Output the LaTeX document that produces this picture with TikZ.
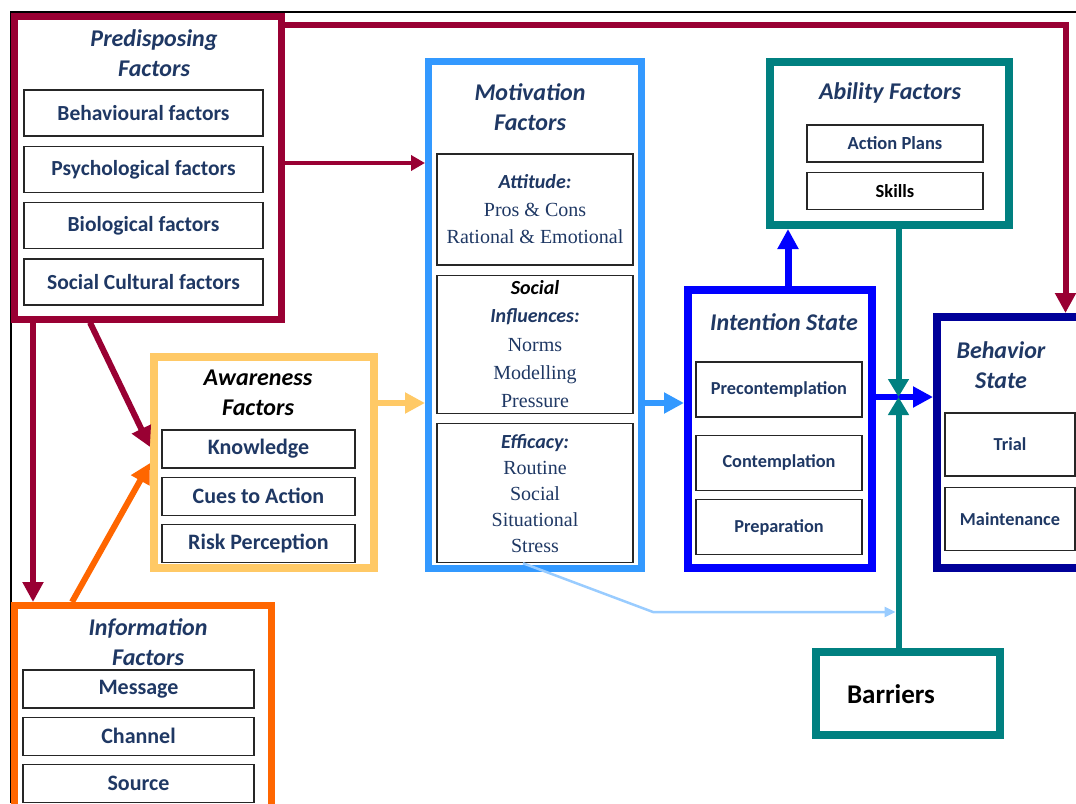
\documentclass[tikz,border=0pt]{standalone}
\usepackage{fontspec}
\setmainfont{Carlito}
\newfontfamily\garafont{Liberation Serif}
\usetikzlibrary{positioning,arrows.meta}
\definecolor{PredRed}{HTML}{990033}
\definecolor{AwareGold}{HTML}{FFC966}
\definecolor{InfoOrange}{HTML}{FF6600}
\definecolor{MotBlue}{HTML}{3399FF}
\definecolor{PaleBlue}{HTML}{99CCFF}
\definecolor{AbiTeal}{HTML}{008080}
\definecolor{IntBlue}{HTML}{0000FF}
\definecolor{BehNavy}{HTML}{000099}
\definecolor{TxtBlue}{HTML}{1F3864}

\begin{document}
\begin{tikzpicture}[x=1pt,y=-1pt]
	\tikzstyle{FrameStyle} = [shape=rectangle, draw, fill=white, inner sep=0pt]
	\tikzstyle{ItemStyle}  = [shape=rectangle, draw=black!85, line width=1.3pt, fill=white, inner sep=0pt,
	                          text=TxtBlue, font=\bfseries\fontsize{21.5}{24}\selectfont]
	\tikzstyle{ListStyle}  = [ItemStyle, align=center, font=\garafont\fontsize{20}{27.5}\selectfont]
	\tikzstyle{TitleStyle} = [align=center, text=TxtBlue, font=\bfseries\itshape\fontsize{24}{30}\selectfont]
	\tikzstyle{EdgeStyle}  = [line width=6pt, -{Triangle[length=20pt,width=20pt]}]
	\useasboundingbox (0,0) rectangle (1076,803);
	\draw[line width=1.3pt] (11,803) -- (11,12) -- (1080,12);

	% outer boxes
	\node[FrameStyle, draw=PredRed, line width=7pt, minimum width=267pt, minimum height=303pt] (pre) at (148,167.5) {};
	\node[FrameStyle, draw=AwareGold, line width=8pt, minimum width=220pt, minimum height=211pt] (awa) at (264,462.5) {};
	\node[FrameStyle, draw=InfoOrange, line width=7pt, minimum width=257pt, minimum height=430pt] (inf) at (143,820.5) {};
	\node[FrameStyle, draw=MotBlue, line width=7pt, minimum width=213pt, minimum height=507pt] (mot) at (535,315) {};
	\node[FrameStyle, draw=AbiTeal, line width=8pt, minimum width=239pt, minimum height=163pt] (abi) at (889.5,143.5) {};
	\node[FrameStyle, draw=IntBlue, line width=8pt, minimum width=184pt, minimum height=278pt] (int) at (780,429) {};
	\node[FrameStyle, draw=BehNavy, line width=8pt, minimum width=163pt, minimum height=251pt] (beh) at (1018.5,442.5) {};
	\node[FrameStyle, draw=AbiTeal, line width=8pt, minimum width=184pt, minimum height=83pt] (bar) at (908,693.5) {};

	% titles
	\node[TitleStyle] at (154,53.5) {Predisposing\\Factors};
	\node[TitleStyle, text=black] at (258,393) {Awareness\\Factors};
	\node[TitleStyle] at (148,642) {Information\\Factors};
	\node[TitleStyle] at (530,107.5) {Motivation\\Factors};
	\node[TitleStyle] at (890,93) {Ability Factors};
	\node[TitleStyle] at (784,322) {Intention State};
	\node[TitleStyle] at (1001,365) {Behavior\\State};
	\node[font=\bfseries\fontsize{27}{29}\selectfont] at (891,694) {Barriers};

	% predisposing items
	\tikzstyle{PredItem} = [ItemStyle, minimum width=239pt, minimum height=46pt]
	\node[PredItem] (behav) at (143.5,113) {Behavioural factors};
	\node[PredItem, below=9pt of behav] (psych) {Psychological factors};
	\node[PredItem, below=9pt of psych] (biol) {Biological factors};
	\node[PredItem, below=9pt of biol] (socul) {Social Cultural factors};

	% awareness items
	\tikzstyle{AwaItem} = [ItemStyle, minimum width=193pt, minimum height=38pt, font=\bfseries\fontsize{22}{24}\selectfont]
	\node[AwaItem] (know) at (258.5,449) {Knowledge};
	\node[AwaItem, below=8pt of know] (cues) {Cues to Action};
	\node[AwaItem, below=8pt of cues] (risk) {Risk Perception};

	% information items
	\tikzstyle{InfItem} = [ItemStyle, minimum width=231pt, minimum height=38pt, font=\bfseries\fontsize{22}{24}\selectfont]
	\node[InfItem] (mess) at (138.5,689) {Message};
	\node[InfItem, below=8pt of mess] (chan) {Channel};
	\node[InfItem, below=8pt of chan] (sour) {Source};

	% motivation items
	\tikzstyle{MotItem} = [ListStyle, minimum width=196pt]
	\node[MotItem, minimum height=111pt] (att) at (535,209.5)
		{{\normalfont\bfseries\itshape Attitude:}\\Pros \& Cons\\Rational \& Emotional};
	\node[MotItem, minimum height=138pt, below=9pt of att, font=\garafont\fontsize{20}{28.3}\selectfont] (soc)
		{{\normalfont\bfseries\itshape\color{black}Social}\\{\normalfont\bfseries\itshape Influences:}\\Norms\\Modelling\\Pressure};
	\node[MotItem, minimum height=139pt, below=9pt of soc, font=\garafont\fontsize{20}{26}\selectfont] (eff)
		{{\normalfont\bfseries\itshape Efficacy:}\\Routine\\Social\\Situational\\Stress};

	% ability items
	\tikzstyle{AbiItem} = [ItemStyle, minimum width=176pt, minimum height=37pt, font=\bfseries\fontsize{18.5}{20}\selectfont]
	\node[AbiItem] (plan) at (895,143.5) {Action Plans};
	\node[AbiItem, below=9pt of plan, text=black] (skil) {Skills};

	% intention items
	\tikzstyle{IntItem} = [ItemStyle, minimum width=166pt, minimum height=55pt, font=\bfseries\fontsize{18.3}{20}\selectfont]
	\node[IntItem] (prec) at (779,389.5) {Precontemplation};
	\node[IntItem, below=17pt of prec] (cont) {Contemplation};
	\node[IntItem, below=8pt of cont] (prep) {Preparation};

	% behavior items
	\tikzstyle{BehItem} = [ItemStyle, minimum width=130pt, minimum height=63pt, font=\bfseries\fontsize{18.3}{20}\selectfont]
	\node[BehItem] (tria) at (1010,444.5) {Trial};
	\node[BehItem, below=10pt of tria] (main) {Maintenance};

	% connectors
	\coordinate (turn) at (1065.5,25);
	\coordinate (jn) at (898.5,397);
	\draw[EdgeStyle, draw=PredRed] (turn -| pre.east) -- (turn) -- (turn |- beh.north);
	\draw[EdgeStyle, draw=PredRed, line width=4.5pt, -{Triangle[length=14pt,width=15pt]}] (pre.east |- 0,163) -- (mot.west |- 0,163);
	\draw[EdgeStyle, draw=PredRed] (pre.south -| 33,0) -- (inf.north -| 33,0);
	\draw[EdgeStyle, draw=PredRed] (pre.south -| 90,0) -- (awa.west |- 0,447);
	\draw[EdgeStyle, draw=InfoOrange] (inf.north -| 72,0) -- (awa.west |- 0,463);
	\draw[EdgeStyle, draw=AwareGold] (awa.east |- 0,403) -- (mot.west |- 0,403);
	\draw[EdgeStyle, draw=MotBlue] (mot.east |- 0,403) -- (int.west |- 0,403);
	\draw[EdgeStyle, draw=IntBlue, line width=7pt] (int.north -| 788,0) -- (abi.south -| 788,0);
	\draw[EdgeStyle, draw=IntBlue] (int.east |- jn) -- (beh.west |- jn);
	\draw[EdgeStyle, draw=AbiTeal, -{Triangle[length=18pt,width=20pt]}] (abi.south -| jn) -- (jn);
	\draw[EdgeStyle, draw=AbiTeal, -{Triangle[length=18pt,width=20pt]}] (bar.north -| jn) -- (jn);
	\draw[draw=PaleBlue, line width=2.5pt, -{Triangle[length=11pt,width=10pt]}, shorten >=3pt]
		(eff.south -| 523,0) -- (653,612) -- (jn |- 0,612);
\end{tikzpicture}
\end{document}
